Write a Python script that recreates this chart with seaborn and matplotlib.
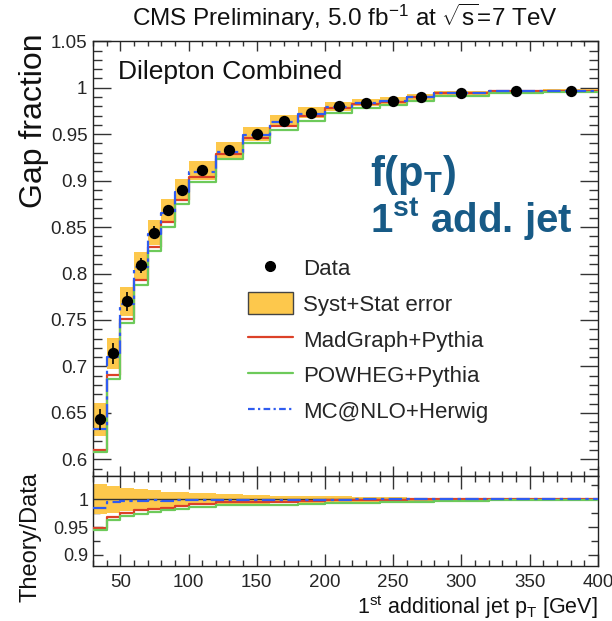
import numpy as np
import pandas as pd
import matplotlib
matplotlib.use("Agg")
import matplotlib.pyplot as plt
import seaborn as sns
from matplotlib.patches import Patch
from matplotlib.lines import Line2D
from matplotlib.ticker import MultipleLocator, FixedLocator

# ---------------- data ----------------
bin_edges = [30, 40, 50, 60, 70, 80, 90, 100, 120, 140, 160, 180, 200,
             220, 240, 260, 280, 320, 360, 400]
data_gap = [0.643, 0.714, 0.770, 0.809, 0.844, 0.868, 0.890, 0.911, 0.933,
            0.950, 0.964, 0.973, 0.980, 0.984, 0.986, 0.990, 0.994, 0.996, 0.997]
data_stat = [0.011, 0.011, 0.010, 0.008, 0.007, 0.006, 0.005, 0.004, 0.004,
             0.003, 0.003, 0.002, 0.002, 0.002, 0.002, 0.002, 0.002, 0.002, 0.002]
data_syst_stat = [0.0175, 0.017, 0.0155, 0.0145, 0.0135, 0.012, 0.0115, 0.010,
                  0.0085, 0.0075, 0.0065, 0.006, 0.005, 0.004, 0.004, 0.003,
                  0.003, 0.002, 0.002]
madgraph = [0.6096, 0.6912, 0.7508, 0.7928, 0.8288, 0.8550, 0.8793, 0.9037,
            0.9283, 0.9462, 0.9592, 0.9701, 0.9780, 0.9830, 0.9850, 0.9900,
            0.9940, 0.9960, 0.9970]
powheg = [0.6076, 0.6869, 0.7469, 0.7880, 0.8246, 0.8506, 0.8749, 0.8982,
          0.9237, 0.9405, 0.9544, 0.9642, 0.9731, 0.9781, 0.9811, 0.9860,
          0.9910, 0.9940, 0.9950]
mcatnlo = [0.6330, 0.7104, 0.7677, 0.8066, 0.8423, 0.8654, 0.8882, 0.9092,
           0.9311, 0.9491, 0.9630, 0.9720, 0.9790, 0.9840, 0.9860, 0.9900,
           0.9940, 0.9960, 0.9970]

model_names = ["MadGraph+Pythia", "POWHEG+Pythia", "MC@NLO+Herwig"]

# ---------------- style ----------------
YEL = "#fdc84c"
RED = "#dc4128"
GRN = "#6dca5a"
BLU = "#2f5cf0"
TXTBLUE = "#175a86"
DASHDOT = (6, 2, 1.5, 2)

sns.set_theme(style="ticks")
plt.rcParams['font.family'] = ['Liberation Sans', 'DejaVu Sans']
plt.rcParams['mathtext.fontset'] = 'custom'
plt.rcParams['mathtext.rm'] = 'Liberation Sans'
plt.rcParams['mathtext.it'] = 'Liberation Sans:italic'
plt.rcParams['mathtext.bf'] = 'Liberation Sans:bold'
plt.rcParams['mathtext.default'] = 'regular'
plt.rcParams['axes.edgecolor'] = '#222222'
plt.rcParams['axes.linewidth'] = 1.0

fig = plt.figure(figsize=(6.12, 6.21), dpi=100)
ax = fig.add_axes([0.152, 0.2335, 0.825, 0.700])
rax = fig.add_axes([0.152, 0.0886, 0.825, 0.1449])

edges = np.array(bin_edges, dtype=float)
lo = edges[:-1]
w = np.diff(edges)
centers = lo + w / 2
d = np.array(data_gap)
e = np.array(data_syst_stat)
models = [np.array(madgraph), np.array(powheg), np.array(mcatnlo)]
colors = [RED, GRN, BLU]


def step_df(vals):
    vals = list(vals)
    return pd.DataFrame({"x": edges, "y": vals + [vals[-1]]})


# ---------------- main panel ----------------
ax.bar(lo, 2 * e, width=w, bottom=d - e, align="edge", color=YEL,
       linewidth=0, zorder=1)
for vals, c, name in zip(models, colors, model_names):
    kw = dict(dashes=DASHDOT) if name.startswith("MC@NLO") else {}
    sns.lineplot(data=step_df(vals), x="x", y="y", ax=ax, color=c, lw=1.6,
                 drawstyle="steps-post", estimator=None, sort=False,
                 legend=False, zorder=3, **kw)
ax.errorbar(centers, d, yerr=data_stat, fmt="none", ecolor="black",
            elinewidth=1.2, zorder=4)
sns.scatterplot(x=centers, y=d, ax=ax, color="black", s=66, linewidth=0,
                zorder=5, legend=False)

ax.set_xlim(30, 400)
ax.set_ylim(0.582, 1.05)
ax.set_xlabel("")
ax.set_ylabel("")
ax.xaxis.set_major_locator(MultipleLocator(50))
ax.xaxis.set_minor_locator(MultipleLocator(10))
ax.set_yticks([0.6, 0.65, 0.7, 0.75, 0.8, 0.85, 0.9, 0.95, 1.0, 1.05])
ax.set_yticklabels(["0.6", "0.65", "0.7", "0.75", "0.8", "0.85", "0.9",
                    "0.95", "1", "1.05"])
ax.yaxis.set_minor_locator(MultipleLocator(0.01))
ax.tick_params(axis="both", which="both", direction="in", top=True,
               right=True, labelbottom=False, color="#333333")
ax.tick_params(axis="y", which="major", length=13, width=1.0,
               labelsize=13.5, pad=4)
ax.tick_params(axis="y", which="minor", length=6.5, width=1.0)
ax.tick_params(axis="x", which="major", length=7, width=1.0)
ax.tick_params(axis="x", which="minor", length=3.5, width=1.0)

ax.text(0.05, 0.93, "Dilepton Combined", transform=ax.transAxes,
        fontsize=19, ha="left", va="center", color="#111111")
ax.text(0.549, 1 - (175 - 41) / 435, r"$\mathbf{f(p_{T})}$",
        transform=ax.transAxes, fontsize=30, color=TXTBLUE, ha="left",
        va="center")
ax.text(0.549, 1 - (220 - 41) / 435, r"$\mathbf{1^{st}}$ add. jet",
        transform=ax.transAxes, fontsize=29, color=TXTBLUE, ha="left",
        va="center", fontweight="bold")

handles = [
    Line2D([], [], marker="o", ls="none", color="black", markersize=7),
    Patch(facecolor=YEL, edgecolor="#444444", linewidth=1.0),
    Line2D([], [], color=RED, lw=1.6),
    Line2D([], [], color=GRN, lw=1.6),
    Line2D([], [], color=BLU, lw=1.6, dashes=(3, 1.5, 1, 1.5)),
]
labels = ["Data", "Syst+Stat error"] + model_names
ax.legend(handles, labels, loc="upper left",
          bbox_to_anchor=(0.306, 0.505), frameon=False, fontsize=16,
          handlelength=2.05, handleheight=1.15, handletextpad=0.45,
          labelspacing=0.55, borderaxespad=0, borderpad=0)

fig.text(0.564, 1 - 17 / 621,
         r"CMS Preliminary, 5.0 fb$^{-1}$ at $\sqrt{s}$=7 TeV",
         ha="center", va="center", fontsize=17.5, color="#111111")
fig.text(0.055, 1 - 121 / 621, "Gap fraction", rotation=90, ha="center",
         va="center", fontsize=23, color="#111111")

# ---------------- ratio panel ----------------
rel = e / d
rax.bar(lo, 2 * rel, width=w, bottom=1 - rel, align="edge", color=YEL,
        linewidth=0, zorder=1)
rax.axhline(1.0, color="#333333", lw=1.0, zorder=2)
for vals, c, name in zip(models, colors, model_names):
    kw = dict(dashes=DASHDOT) if name.startswith("MC@NLO") else {}
    sns.lineplot(data=step_df(vals / d), x="x", y="y", ax=rax, color=c,
                 lw=1.6, drawstyle="steps-post", estimator=None, sort=False,
                 legend=False, zorder=3, **kw)

rax.set_xlim(30, 400)
rax.set_ylim(0.88, 1.042)
rax.set_xlabel("")
rax.set_ylabel("")
rax.xaxis.set_major_locator(MultipleLocator(50))
rax.xaxis.set_minor_locator(MultipleLocator(10))
rax.set_yticks([0.9, 0.95, 1.0])
rax.set_yticklabels(["0.9", "0.95", "1"])
rax.yaxis.set_minor_locator(FixedLocator([0.925, 0.975, 1.025]))
rax.tick_params(axis="both", which="both", direction="in", top=True,
                right=True, color="#333333")
rax.tick_params(axis="x", which="major", length=9, width=1.0,
                labelsize=13.5, pad=6)
rax.tick_params(axis="x", which="minor", length=4.5, width=1.0)
rax.tick_params(axis="y", which="major", length=7, width=1.0,
                labelsize=13, pad=3)
rax.tick_params(axis="y", which="minor", length=5, width=1.0)

fig.text(0.050, 1 - 537 / 621, "Theory/Data", rotation=90, ha="center",
         va="center", fontsize=17, color="#111111")
fig.text(0.977, 1 - 607 / 621, r"1$^{st}$ additional jet p$_{T}$ [GeV]",
         ha="right", va="center", fontsize=15.5, color="#111111")

fig.savefig("out.png", dpi=100)
